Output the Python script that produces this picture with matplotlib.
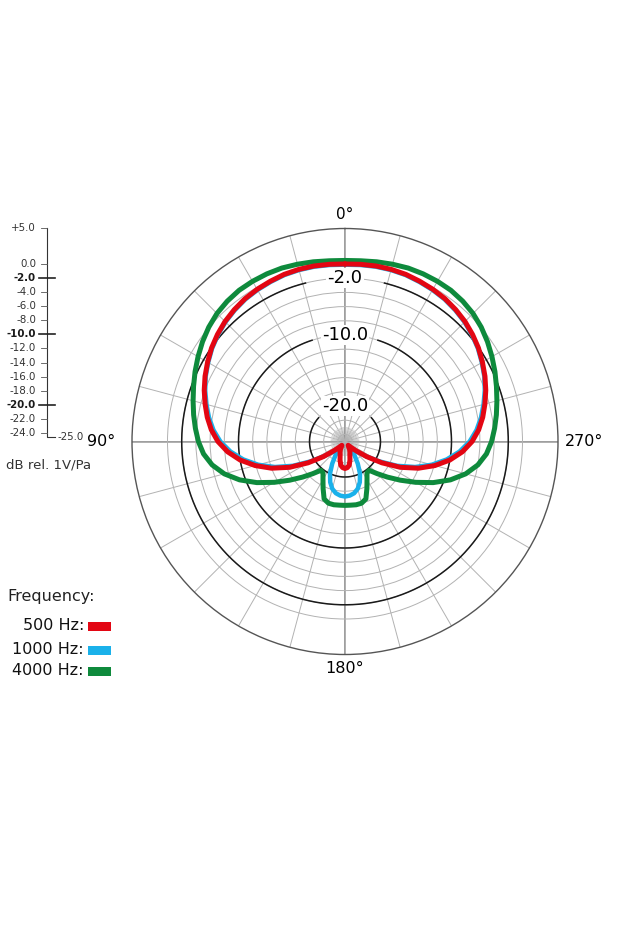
import numpy as np
import matplotlib
matplotlib.use('Agg')
import matplotlib.pyplot as plt
from matplotlib.patches import Rectangle

W, H = 621, 931

# polar response read every 5 degrees (0 = front, counter-clockwise, 90 on the left), level in dB
angles_deg = np.arange(0, 361, 5)

red_db = [0.0, 0.05, 0.1, 0.1, 0.05, -0.1, -0.25, -0.45, -0.75, -1.1, -1.55, -2.05, -2.65, -3.25,
          -3.9, -4.6, -5.3, -6.1, -7.1, -8.4, -10.0, -11.9, -14.0, -16.4, -19.0, -21.3, -23.0,
          -23.9, -24.3, -24.1, -23.7, -23.35, -23.0, -22.3, -21.6, -21.3, -21.2,
          -21.3, -21.6, -22.3, -23.0, -23.35, -23.7, -24.1, -24.3, -23.9, -23.0, -21.3, -19.0,
          -16.4, -14.0, -11.9, -10.0, -8.4, -7.1, -6.1, -5.3, -4.6, -3.9, -3.25, -2.65, -2.05,
          -1.55, -1.1, -0.75, -0.45, -0.25, -0.1, 0.05, 0.1, 0.1, 0.05, 0.0]

blue_db = [-0.1, -0.05, 0.0, 0.0, -0.05, -0.2, -0.35, -0.55, -0.85, -1.2, -1.65, -2.15, -2.75,
           -3.35, -4.05, -4.8, -5.55, -6.4, -7.45, -8.8, -10.45, -12.35, -14.5, -16.9, -19.4,
           -21.4, -22.7, -23.2, -23.4, -22.7, -21.4, -20.0, -18.9, -18.1, -17.6, -17.35, -17.25,
           -17.35, -17.6, -18.1, -18.9, -20.0, -21.4, -22.7, -23.4, -23.2, -22.7, -21.4, -19.4,
           -16.9, -14.5, -12.35, -10.45, -8.8, -7.45, -6.4, -5.55, -4.8, -4.05, -3.35, -2.75,
           -2.15, -1.65, -1.2, -0.85, -0.55, -0.35, -0.2, -0.05, 0.0, 0.0, -0.05, -0.1]

green_db = [0.5, 0.55, 0.7, 0.85, 1.0, 1.05, 1.05, 1.0, 0.8, 0.5, 0.05, -0.5, -1.1, -1.7, -2.3,
            -2.85, -3.35, -3.85, -4.35, -5.0, -6.0, -7.4, -9.2, -11.3, -13.5, -15.5, -17.2, -18.6,
            -19.7, -19.6, -18.8, -17.7, -16.4, -16.0, -15.95, -16.0, -16.0,
            -16.0, -15.95, -16.0, -16.4, -17.7, -18.8, -19.6, -19.7, -18.6, -17.2, -15.5, -13.5,
            -11.3, -9.2, -7.4, -6.0, -5.0, -4.35, -3.85, -3.35, -2.85, -2.3, -1.7, -1.1, -0.5,
            0.05, 0.5, 0.8, 1.0, 1.05, 1.05, 1.0, 0.85, 0.7, 0.55, 0.5]

series = [('500 Hz:', red_db, '#e30613', 3.6),
          ('1000 Hz:', blue_db, '#1ab1ea', 3.2),
          ('4000 Hz:', green_db, '#0e8a3c', 3.6)]

scale_vals = [5, 0, -2, -4, -6, -8, -10, -12, -14, -16, -18, -20, -22, -24]
scale_labels = ['+5.0', '0.0', '-2.0', '-4.0', '-6.0', '-8.0', '-10.0', '-12.0', '-14.0',
                '-16.0', '-18.0', '-20.0', '-22.0', '-24.0']
scale_bold = [-2, -10, -20]

ring_levels = [-2, -10, -20]
ring_labels = ['-2.0', '-10.0', '-20.0']
ring_gaps = [14, 18, 48]

angle_ticks = [0, 90, 180, 270]
angle_labels = ['0°', '90°', '180°', '270°']

GRID = '#b2b2b2'

fig = plt.figure(figsize=(W / 100, H / 100), dpi=100)
fig.patch.set_facecolor('white')

cx, cy, R = 345, 441.5, 213
ax = fig.add_axes([(cx - R) / W, (H - cy - R) / H, 2 * R / W, 2 * R / H], projection='polar')
ax.set_theta_zero_location('N')
ax.set_theta_direction(1)
ax.set_rlim(-25, 5)
ax.set_rticks(np.arange(-24, 1, 2))
ax.set_xticks(np.radians(np.arange(0, 360, 15)))
ax.xaxis.set_ticklabels([])
ax.yaxis.set_ticklabels([])
ax.grid(True, color=GRID, lw=0.7)
ax.spines['polar'].set_color('#555555')
ax.spines['polar'].set_linewidth(1.0)

# dense spokes around the centre
for a in range(0, 360, 5):
    if a % 15:
        ax.plot([np.radians(a)] * 2, [-25, -23], color=GRID, lw=0.4, zorder=1)

# main cross
for a in [0, 90, 180, 270]:
    ax.plot([np.radians(a)] * 2, [-25, 5], color='#8c8c8c', lw=1.2, zorder=1)

# dark reference rings with labels at the top
for level, lab, gap in zip(ring_levels, ring_labels, ring_gaps):
    t = np.radians(np.linspace(gap, 360 - gap, 300))
    ax.plot(t, np.full(t.size, level), color='#1a1a1a', lw=1.1, zorder=2)
    ax.text(0, level, lab, ha='center', va='center', fontsize=13, zorder=3,
            bbox=dict(fc='white', ec='none', pad=0.8))

theta = np.radians(angles_deg)
for name, db, col, lw in series[::-1]:
    ax.plot(theta, db, color=col, lw=lw, zorder=4,
            solid_joinstyle='round', solid_capstyle='round')

label_r = [7.0, 7.3, 7.0, 6.0]
label_ha = ['center', 'right', 'center', 'left']
for a, lab, r, ha in zip(angle_ticks, angle_labels, label_r, label_ha):
    ax.text(np.radians(a), r, lab, ha=ha, va='center', fontsize=11.5 if a else 11)

# level scale on the left
sx = fig.add_axes([0, (H - 440.3) / H, 100 / W, 212 / H])
sx.set_xlim(0, 100)
sx.set_ylim(-25, 5)
sx.axis('off')
sx.plot([47, 47, 55], [5, -24.5, -24.5], color='#333333', lw=0.8, clip_on=False)
for v, lab in zip(scale_vals, scale_labels):
    bold = v in scale_bold
    if bold:
        sx.plot([39, 55], [v, v], color='#222222', lw=1.2, clip_on=False)
    else:
        sx.plot([41, 47], [v, v], color='#555555', lw=0.6, clip_on=False)
    sx.text(36, v, lab, ha='right', va='center', fontsize=7.4,
            fontweight='bold' if bold else 'normal', color='#1a1a1a' if bold else '#333333')
sx.text(57, -24.6, '-25.0', ha='left', va='center', fontsize=7.4, color='#333333')

fig.text(6 / W, 1 - 465 / H, 'dB rel. 1V/Pa', fontsize=9.5, ha='left', va='center', color='#333333')

# legend
fig.text(7 / W, 1 - 601 / H, 'Frequency:', fontsize=11.5, ha='left', va='baseline', color='#222222')
for (name, db, col, lw), base in zip(series, [630, 654, 675]):
    fig.text(84 / W, 1 - base / H, name, fontsize=11.5, ha='right', va='baseline', color='#111111')
    fig.add_artist(Rectangle((88 / W, 1 - (base + 0.5) / H), 23 / W, 9 / H,
                             transform=fig.transFigure, color=col, lw=0))

fig.savefig('out.png', dpi=100)
